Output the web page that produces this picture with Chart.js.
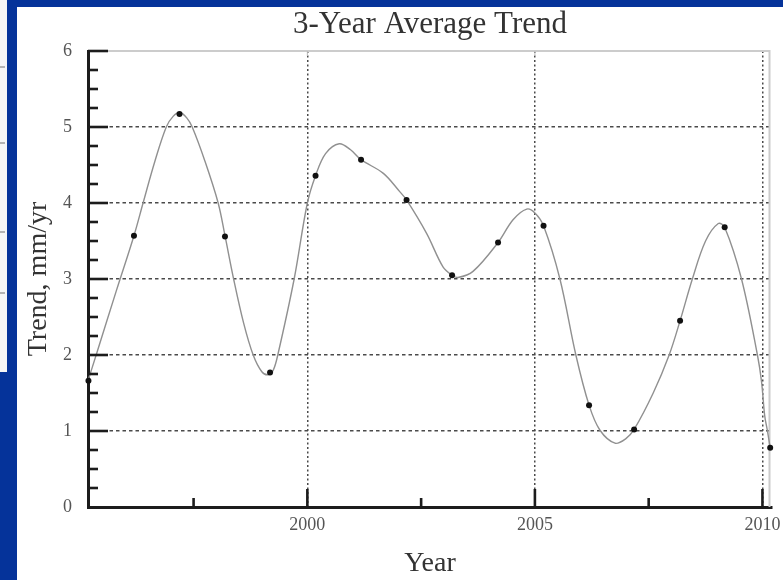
<!DOCTYPE html>
<html>
<head>
<meta charset="utf-8">
<script src="https://cdn.jsdelivr.net/npm/chart.js@4/dist/chart.umd.min.js"></script>
<style>
html,body{margin:0;padding:0;background:#05339a;}
canvas{display:block;}
</style>
</head>
<body>
<canvas id="c" width="783" height="580"></canvas>
<script>
// ---- data ----
const pointYears  = [1995.19, 1996.19, 1997.19, 1998.19, 1999.18, 2000.18, 2001.18, 2002.18, 2003.18, 2004.19, 2005.19, 2006.19, 2007.18, 2008.19, 2009.17, 2010.17];
const pointValues = [1.66,    3.57,    5.17,    3.56,    1.77,    4.36,    4.57,    4.04,    3.05,    3.48,    3.70,    1.34,    1.02,    2.45,    3.68,    0.78];

const curveYears  = [1995.18, 1995.37, 1995.80, 1996.19, 1996.39, 1996.65, 1996.90, 1997.05, 1997.20, 1997.35, 1997.47, 1997.75, 1998.04, 1998.19, 1998.38, 1998.60, 1998.81, 1999.00, 1999.14, 1999.25, 1999.35, 1999.71, 2000.00, 2000.18, 2000.40, 2000.70, 2000.95, 2001.18, 2001.67, 2002.03, 2002.18, 2002.62, 2002.98, 2003.18, 2003.31, 2003.64, 2004.19, 2004.52, 2004.82, 2005.00, 2005.19, 2005.55, 2005.90, 2006.19, 2006.43, 2006.76, 2007.00, 2007.18, 2007.60, 2007.95, 2008.19, 2008.46, 2008.75, 2009.03, 2009.17, 2009.54, 2009.89, 2009.98, 2010.05, 2010.11, 2010.17];
const curveValues = [1.66,    2.02,    2.84,    3.57,    4.00,    4.55,    5.00,    5.14,    5.19,    5.12,    5.00,    4.55,    4.00,    3.57,    3.00,    2.42,    2.00,    1.78,    1.74,    1.80,    2.00,    3.00,    4.00,    4.36,    4.65,    4.78,    4.70,    4.57,    4.39,    4.15,    4.04,    3.60,    3.16,    3.05,    3.02,    3.10,    3.48,    3.78,    3.92,    3.87,    3.70,    3.00,    2.00,    1.34,    1.01,    0.84,    0.90,    1.02,    1.50,    2.00,    2.45,    3.00,    3.50,    3.73,    3.68,    3.00,    2.00,    1.65,    1.20,    1.00,    0.78];

const xTickValues  = [1997.5, 2000, 2002.5, 2005, 2007.5, 2010];
const xLabelValues = [2000, 2005, 2010];
const yLabelValues = [0, 1, 2, 3, 4, 5, 6];
const yGridValues  = [1, 2, 3, 4, 5];

const chartTitle = '3-Year Average Trend';
const xAxisTitle = 'Year';
const yAxisTitle = 'Trend, mm/yr';

const SERIF = '"Liberation Serif", "DejaVu Serif", serif';

const backdrop = {
  id: 'backdrop',
  beforeDraw(chart) {
    const ctx = chart.ctx;
    ctx.save();
    ctx.fillStyle = '#05339a';
    ctx.fillRect(0, 0, 783, 580);
    ctx.fillStyle = '#ffffff';
    ctx.fillRect(17, 7, 766, 573);
    ctx.fillStyle = '#f6f6f6';
    ctx.fillRect(0, 0, 7, 372);
    ctx.strokeStyle = '#888';
    ctx.lineWidth = 1.2;
    [67, 143, 232, 293].forEach(y => {
      ctx.beginPath(); ctx.moveTo(0, y); ctx.lineTo(5, y); ctx.stroke();
    });
    ctx.restore();
  },
  beforeDatasetsDraw(chart) {
    const ctx = chart.ctx, ca = chart.chartArea, xs = chart.scales.x;
    ctx.save();
    ctx.strokeStyle = '#cccccc';
    ctx.lineWidth = 2;
    ctx.beginPath();
    ctx.moveTo(ca.left, ca.top);
    ctx.lineTo(ca.right - 2.5, ca.top);
    ctx.lineTo(ca.right - 2.5, ca.bottom);
    ctx.stroke();
    ctx.lineWidth = 1;
    ctx.strokeStyle = '#bbbbbb';
    xLabelValues.slice(0, 2).forEach(v => {
      const x = xs.getPixelForValue(v);
      ctx.beginPath(); ctx.moveTo(x, ca.top); ctx.lineTo(x, ca.top + 5); ctx.stroke();
    });
    ctx.restore();
  },
  afterDraw(chart) {
    const ctx = chart.ctx, ca = chart.chartArea;
    const xs = chart.scales.x, ys = chart.scales.y;
    ctx.save();
    ctx.strokeStyle = '#1c1c1c';
    ctx.lineWidth = 2.6;
    ys.ticks.forEach(t => {
      if (t.value <= 0) return;
      const y = ys.getPixelForValue(t.value);
      const len = Number.isInteger(t.value) ? 20 : 10;
      ctx.beginPath(); ctx.moveTo(ca.left, y); ctx.lineTo(ca.left + len, y); ctx.stroke();
    });
    xs.ticks.forEach(t => {
      const x = xs.getPixelForValue(t.value);
      const len = xLabelValues.includes(t.value) ? 18 : 9;
      ctx.beginPath(); ctx.moveTo(x, ca.bottom); ctx.lineTo(x, ca.bottom - len); ctx.stroke();
    });
    ctx.restore();
  }
};

new Chart(document.getElementById('c'), {
  type: 'scatter',
  data: {
    datasets: [
      {
        label: 'points',
        data: pointYears.map((x, i) => ({ x, y: pointValues[i] })),
        backgroundColor: '#111111',
        borderColor: '#111111',
        pointRadius: 3,
        pointBorderWidth: 0,
        showLine: false,
        clip: false
      },
      {
        label: 'curve',
        data: curveYears.map((x, i) => ({ x, y: curveValues[i] })),
        borderColor: '#909090',
        borderWidth: 1.4,
        pointRadius: 0,
        showLine: true,
        fill: false,
        tension: 0.35
      }
    ]
  },
  options: {
    responsive: false,
    animation: false,
    devicePixelRatio: 1,
    events: [],
    layout: { padding: { left: 0, top: 0, right: 11, bottom: 0 } },
    plugins: {
      legend: { display: false },
      tooltip: { enabled: false },
      title: {
        display: true,
        text: chartTitle,
        fullSize: false,
        color: '#333333',
        font: { family: SERIF, size: 31, weight: 'normal' },
        padding: { top: 6.5, bottom: 7.3 }
      }
    },
    scales: {
      x: {
        type: 'linear',
        min: 1995.18,
        max: 2010.21,
        afterBuildTicks(scale) {
          scale.ticks = xTickValues.map(v => ({ value: v }));
        },
        afterFit(scale) {
          scale.height = 73;
          scale.paddingLeft = 0;
          scale.paddingRight = 0;
        },
        ticks: {
          autoSkip: false,
          maxRotation: 0,
          padding: 7,
          color: '#555555',
          font: { family: SERIF, size: 18 },
          callback: v => (xLabelValues.includes(v) ? String(v) : '')
        },
        grid: {
          drawTicks: false,
          lineWidth: 1.5,
          color: c => (c.tick && xLabelValues.includes(c.tick.value) ? '#4a4a4a' : 'rgba(0,0,0,0)')
        },
        border: { display: true, color: '#1c1c1c', width: 3, dash: [2, 2.5] },
        title: {
          display: true,
          text: xAxisTitle,
          color: '#333333',
          font: { family: SERIF, size: 28 },
          padding: { top: 0, bottom: 0 }
        }
      },
      y: {
        type: 'linear',
        min: 0,
        max: 6,
        afterFit(scale) {
          scale.width = 88;
          scale.paddingTop = 0;
          scale.paddingBottom = 0;
        },
        ticks: {
          stepSize: 0.25,
          autoSkip: false,
          padding: 16,
          color: '#555555',
          font: { family: SERIF, size: 18 },
          callback: v => (yLabelValues.includes(v) ? String(v) : '')
        },
        grid: {
          drawTicks: false,
          lineWidth: 1.5,
          color: c => (c.tick && yGridValues.includes(c.tick.value) ? '#4a4a4a' : 'rgba(0,0,0,0)')
        },
        border: { display: true, color: '#1c1c1c', width: 3, dash: [3.5, 3] },
        title: {
          display: true,
          text: yAxisTitle,
          color: '#333333',
          font: { family: SERIF, size: 28 },
          padding: { top: 22, bottom: 0 }
        }
      }
    }
  },
  plugins: [backdrop]
});
</script>
</body>
</html>
